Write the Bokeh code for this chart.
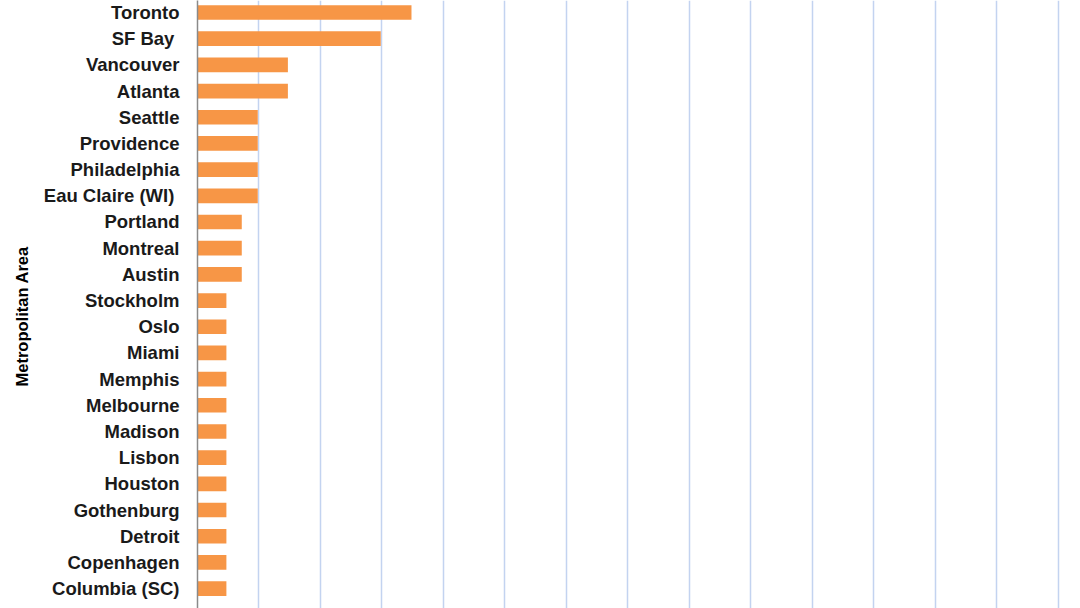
from bokeh.plotting import figure
from bokeh.models import Range1d, FixedTicker, Title
from bokeh.embed import file_html
from bokeh.resources import INLINE

# Data (x in gridline units)
areas = ["Toronto", "SF Bay ", "Vancouver", "Atlanta", "Seattle", "Providence",
         "Philadelphia", "Eau Claire  (WI)", "Portland", "Montreal", "Austin",
         "Stockholm", "Oslo", "Miami", "Memphis", "Melbourne", "Madison", "Lisbon",
         "Houston", "Gothenburg", "Detroit", "Copenhagen", "Columbia (SC)"]
values = [3.48, 2.98, 1.47, 1.47, 0.98, 0.98, 0.98, 0.98, 0.72, 0.72, 0.72,
          0.47, 0.47, 0.47, 0.47, 0.47, 0.47, 0.47, 0.47, 0.47, 0.47, 0.47, 0.47]
grid_ticks = list(range(1, 15))
y_title = "Metropolitan Area"

rows = list(range(len(areas)))

p = figure(width=1080, height=608, output_backend="svg", toolbar_location=None,
           x_range=Range1d(0, 14.36), y_range=Range1d(22.76, -0.458),
           min_border_left=197, min_border_right=0, min_border_top=0,
           min_border_bottom=0)
p.outline_line_color = None
p.background_fill_color = "white"
p.border_fill_color = "white"

p.hbar(y=rows, left=0, right=values, height=0.56,
       fill_color="#f79646", line_color=None)

p.xaxis.visible = False
p.xgrid.ticker = FixedTicker(ticks=grid_ticks)
p.xgrid.grid_line_color = "#c3d3f0"
p.xgrid.grid_line_width = 1.5
p.ygrid.grid_line_color = None

yax = p.yaxis[0]
yax.ticker = FixedTicker(ticks=rows)
yax.major_label_overrides = {i: a for i, a in enumerate(areas)}
yax.major_label_text_font = "Liberation Sans"
yax.major_label_text_font_style = "bold"
yax.major_label_text_font_size = "18.5px"
yax.major_label_text_color = "#1a1a1a"
yax.major_tick_line_color = None
yax.minor_tick_line_color = None
yax.major_tick_out = 0
yax.major_tick_in = 0
yax.major_label_standoff = 18
yax.axis_line_color = "#8a8a8a"
yax.axis_line_width = 1.5

p.add_layout(Title(text=y_title, align="left", text_font="Liberation Sans",
                   text_font_style="bold", text_font_size="16.5px",
                   text_color="#000000", offset=222, standoff=19), "left")

open("out.html", "w").write(file_html(p, INLINE))
